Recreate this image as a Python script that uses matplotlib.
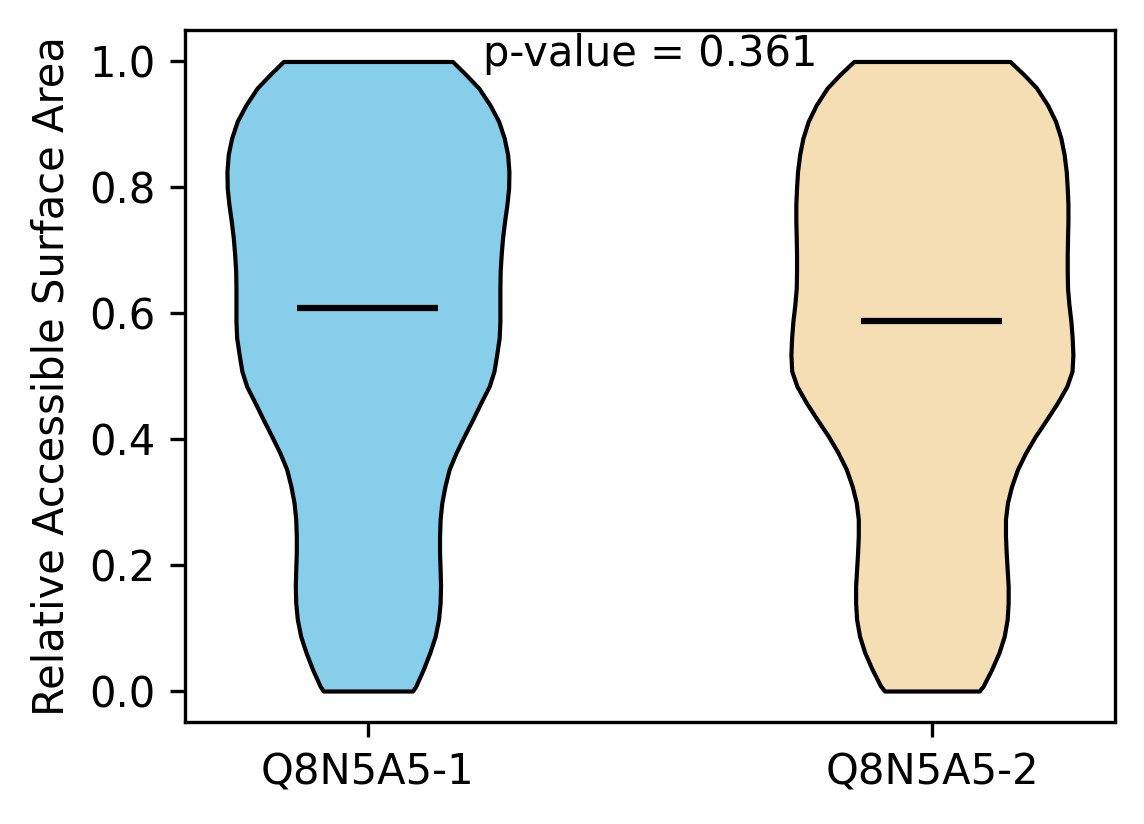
import numpy as np
import matplotlib
matplotlib.use("Agg")
import matplotlib.pyplot as plt

# isoform labels and colours
labels = ["Q8N5A5-1", "Q8N5A5-2"]
colors = ["skyblue", "wheat"]
p_value = 0.361

# density profiles (relative, max = 1), same grid for both
coords = [0.000, 0.008, 0.034, 0.061, 0.087, 0.114, 0.140, 0.167, 0.193, 0.220,
          0.246, 0.273, 0.299, 0.325, 0.352, 0.378, 0.405, 0.431, 0.458, 0.484,
          0.508, 0.534, 0.561, 0.587, 0.614, 0.640, 0.667, 0.693, 0.720, 0.746,
          0.773, 0.799, 0.825, 0.852, 0.878, 0.905, 0.931, 0.958, 0.979, 1.000]
vals_1 = [0.317, 0.340, 0.392, 0.439, 0.477, 0.501, 0.512, 0.515, 0.512, 0.508,
          0.508, 0.512, 0.524, 0.546, 0.576, 0.624, 0.683, 0.742, 0.801, 0.860,
          0.894, 0.913, 0.931, 0.936, 0.936, 0.936, 0.938, 0.945, 0.955, 0.969,
          0.986, 0.998, 1.000, 0.991, 0.967, 0.927, 0.865, 0.785, 0.695, 0.600]
vals_2 = [0.336, 0.364, 0.423, 0.476, 0.513, 0.534, 0.541, 0.541, 0.534, 0.527,
          0.522, 0.522, 0.536, 0.565, 0.607, 0.664, 0.735, 0.813, 0.891, 0.957,
          0.994, 1.000, 0.995, 0.986, 0.972, 0.962, 0.960, 0.960, 0.962, 0.965,
          0.965, 0.960, 0.953, 0.938, 0.915, 0.877, 0.820, 0.742, 0.653, 0.554]
medians = [0.608, 0.587]
means = [0.55, 0.54]

vpstats = []
for v, md, mn in zip([vals_1, vals_2], medians, means):
    vpstats.append(dict(coords=np.array(coords), vals=np.array(v), mean=mn,
                        median=md, min=coords[0], max=coords[-1]))

fig = plt.figure(figsize=(1144 / 300, 824 / 300), dpi=300)
ax = fig.add_axes([0.1614, 0.1232, 0.8134, 0.8404])

parts = ax.violin(vpstats, positions=[1, 2], widths=0.5,
                  showmedians=True, showextrema=False)
for body, col in zip(parts["bodies"], colors):
    body.set_facecolor(col)
    body.set_edgecolor("black")
    body.set_alpha(1)
parts["cmedians"].set_color("black")
parts["cmedians"].set_linewidth(1.5)

ax.set_xticks([1, 2])
ax.set_xticklabels(labels)
ax.set_ylabel("Relative Accessible Surface Area")
ax.text(1.5, 1.045, f"p-value = {p_value}", ha="center", va="top")

fig.savefig("out.png", dpi=300)
